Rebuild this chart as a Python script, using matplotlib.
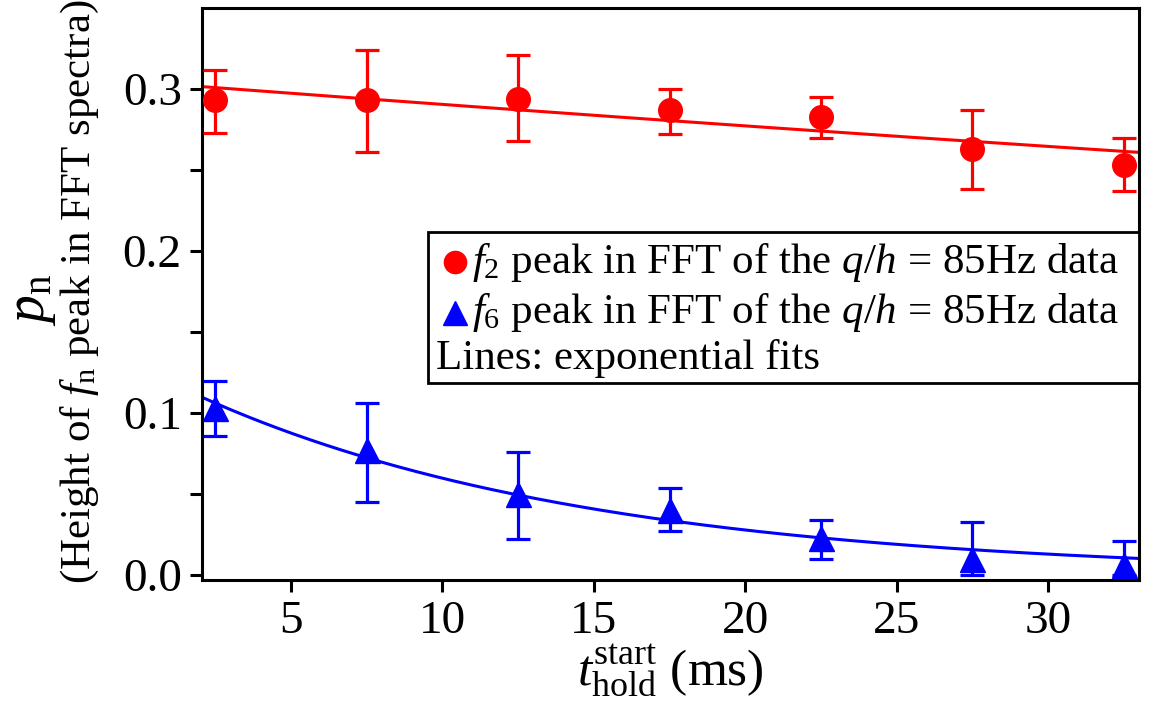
import numpy as np
import matplotlib
matplotlib.use("Agg")
import matplotlib.pyplot as plt
from matplotlib.patches import Rectangle

plt.rcParams['font.family'] = ['Liberation Serif', 'DejaVu Serif']
plt.rcParams['mathtext.fontset'] = 'custom'
plt.rcParams['mathtext.rm'] = 'Liberation Serif'
plt.rcParams['mathtext.it'] = 'Liberation Serif:italic'
plt.rcParams['mathtext.bf'] = 'Liberation Serif:bold'

# ---- data ----
t_hold = [2.5, 7.5, 12.5, 17.5, 22.5, 27.5, 32.5]
f2_val = [0.293, 0.293, 0.294, 0.287, 0.283, 0.263, 0.253]
f2_lo  = [0.273, 0.261, 0.268, 0.272, 0.270, 0.238, 0.237]
f2_hi  = [0.312, 0.324, 0.321, 0.300, 0.295, 0.287, 0.270]
f6_val = [0.103, 0.077, 0.050, 0.040, 0.023, 0.010, 0.006]
f6_lo  = [0.086, 0.045, 0.022, 0.027, 0.010, 0.000, 0.000]
f6_hi  = [0.120, 0.106, 0.076, 0.054, 0.034, 0.033, 0.021]
# exponential fit parameters: A * exp(-t / tau)
f2_fit_A, f2_fit_tau = 0.3044, 214.0
f6_fit_A, f6_fit_tau = 0.1285, 13.08
x_ticks = [5, 10, 15, 20, 25, 30]
y_ticks = [0.0, 0.1, 0.2, 0.3]
y_minor = [0.05, 0.15, 0.25]

RED = '#ff0000'
BLUE = '#0000ff'

fig = plt.figure(figsize=(11.52, 7.04), dpi=100)
ax = fig.add_axes([202/1152, 1-580/704, (1139-202)/1152, (580-8)/704])

t = np.array(t_hold)
for val, lo, hi, col, mk, ms in [(f2_val, f2_lo, f2_hi, RED, 'o', 17),
                                  (f6_val, f6_lo, f6_hi, BLUE, '^', 18)]:
    v = np.array(val)
    yerr = [v - np.array(lo), np.array(hi) - v]
    ax.errorbar(t, v, yerr=yerr, fmt=mk, color=col, ms=ms, mec=col, mfc=col,
                ecolor=col, elinewidth=2.3, capsize=8.5, capthick=2.3, zorder=3)

tf = np.linspace(2.0, 33.0, 300)
ax.plot(tf, f2_fit_A*np.exp(-tf/f2_fit_tau), color=RED, lw=2.2, zorder=2)
ax.plot(tf, f6_fit_A*np.exp(-tf/f6_fit_tau), color=BLUE, lw=2.2, zorder=2)

ax.set_xlim(2.06, 33.0)
ax.set_ylim(-0.003, 0.35)
ax.set_xticks(x_ticks)
ax.set_xticklabels([str(v) for v in x_ticks])
ax.set_yticks(y_ticks)
ax.set_yticklabels([f"{v:.1f}" for v in y_ticks])
ax.set_yticks(y_minor, minor=True)
ax.tick_params(axis='both', which='both', direction='out', length=8.5, width=2.2,
               labelsize=34, top=False, right=False, pad=6)
for s in ax.spines.values():
    s.set_linewidth(2.2)

ax.set_xlabel(r'$t_{\mathrm{hold}}^{\mathrm{start}}$ (ms)', fontsize=37, labelpad=0)

fig.text(32/1152, 1-300/704, r'$p_{\mathrm{n}}$', rotation=90, fontsize=40,
         ha='center', va='center')
fig.text(80/1152, 1-292/704, r'(Height of $f_{\mathrm{n}}$ peak in FFT spectra)',
         rotation=90, fontsize=31, ha='center', va='center')

# ---- legend box (manual) ----
def ax_xy(px, py):
    return ((px-202)/(1139-202), (580-py)/(580-8))

x0, y0 = ax_xy(428, 383)
x1, y1 = ax_xy(1139, 232)
ax.add_patch(Rectangle((x0, y0), x1-x0, y1-y0, transform=ax.transAxes,
                       facecolor='white', edgecolor='black', lw=2.0, zorder=5,
                       clip_on=False))
leg_labels = [r'$f_2$ peak in FFT of the $q/h$ = 85Hz data',
              r'$f_6$ peak in FFT of the $q/h$ = 85Hz data',
              'Lines: exponential fits']
rows_py = [262, 313, 359]
mx, _ = ax_xy(455, 0)
for i, (lab, py) in enumerate(zip(leg_labels, rows_py)):
    _, yy = ax_xy(0, py)
    if i < 2:
        ax.plot([mx], [yy], marker='o' if i == 0 else '^', ms=16 if i == 0 else 17,
                color=RED if i == 0 else BLUE, transform=ax.transAxes,
                clip_on=False, zorder=6)
        tx, _ = ax_xy(472, 0)
    else:
        tx, _ = ax_xy(436, 0)
    ax.text(tx, yy, lab, transform=ax.transAxes, fontsize=31, ha='left',
            va='center', zorder=6)

fig.savefig('out.png', dpi=100)
